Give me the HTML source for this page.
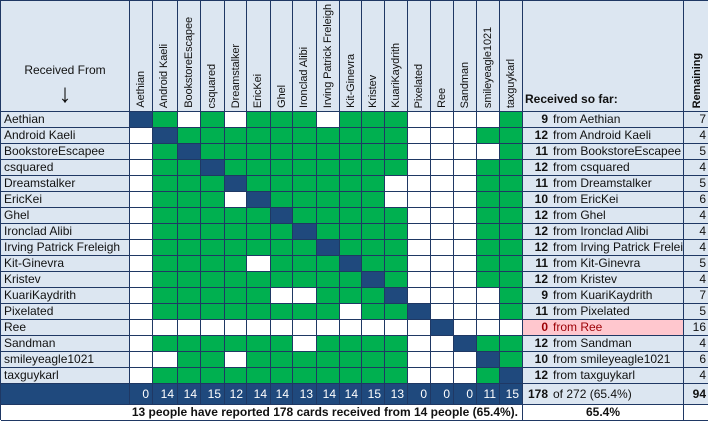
<!DOCTYPE html>
<html><head><meta charset="utf-8"><style>
body{margin:0;width:708px;height:420px;overflow:hidden;background:#fff;font-family:"Liberation Sans",sans-serif;}
.t{display:grid;grid-template-columns:129px 23px 25px 23px 24px 22px 24px 22px 24px 23px 22px repeat(7,23px) 161px 25px;grid-template-rows:111px repeat(17,16px) 21px 16px;width:708px;height:420px;border-left:1px solid #1f3864;border-top:1px solid #1f3864;box-sizing:border-box}
.t>div{border-right:1px solid #1f3864;border-bottom:1px solid #1f3864;box-sizing:border-box;font-size:12px;line-height:15px;overflow:hidden;white-space:nowrap;color:#111}
.n{background:#dce6f1;padding-left:3px}
.G{background:#00b050}.W{background:#fff}.D{background:#1f497d}
.t>.h{background:#dce6f1;display:flex;align-items:flex-end}
.v{writing-mode:vertical-rl;transform:rotate(180deg);display:inline-block;padding:3px 0 2px 0;margin-left:4px;font-size:11px;letter-spacing:-0.1px}
.rf{background:#dce6f1}
.rf b{display:inline-block;width:25px;text-align:right;margin-right:5px}
.rem{background:#dce6f1;text-align:right;padding-right:2px}
.t>.pink{background:#ffc7ce;color:#9c0006}
.t>.f{background:#1f497d;color:#fff;text-align:right;padding-right:3px;line-height:20px}
</style></head><body>
<div class="t">
<div class="h" style="display:block;text-align:center"><div style="margin-top:62px;font-size:12px">Received From</div><div style="font-size:26px;line-height:26px;margin-top:2px">&#8595;</div></div>
<div class="h"><span class="v">Aethian</span></div>
<div class="h"><span class="v">Android Kaeli</span></div>
<div class="h"><span class="v">BookstoreEscapee</span></div>
<div class="h"><span class="v">csquared</span></div>
<div class="h"><span class="v">Dreamstalker</span></div>
<div class="h"><span class="v">EricKei</span></div>
<div class="h"><span class="v">Ghel</span></div>
<div class="h"><span class="v">Ironclad Alibi</span></div>
<div class="h"><span class="v">Irving Patrick Freleigh</span></div>
<div class="h"><span class="v">Kit-Ginevra</span></div>
<div class="h"><span class="v">Kristev</span></div>
<div class="h"><span class="v">KuariKaydrith</span></div>
<div class="h"><span class="v">Pixelated</span></div>
<div class="h"><span class="v">Ree</span></div>
<div class="h"><span class="v">Sandman</span></div>
<div class="h"><span class="v">smileyeagle1021</span></div>
<div class="h"><span class="v">taxguykarl</span></div>
<div class="h"><b style="display:block;padding:0 0 4px 2px">Received so far:</b></div>
<div class="h"><b class="v" style="margin-left:6px">Remaining</b></div>

<div class="n">Aethian</div><div class="D"></div><div class="G"></div><div class="W"></div><div class="G"></div><div class="W"></div><div class="G"></div><div class="G"></div><div class="G"></div><div class="W"></div><div class="G"></div><div class="G"></div><div class="G"></div><div class="W"></div><div class="W"></div><div class="W"></div><div class="W"></div><div class="G"></div><div class="rf"><b>9</b>from Aethian</div><div class="rem">7</div>
<div class="n">Android Kaeli</div><div class="W"></div><div class="D"></div><div class="G"></div><div class="G"></div><div class="G"></div><div class="G"></div><div class="G"></div><div class="G"></div><div class="G"></div><div class="G"></div><div class="G"></div><div class="G"></div><div class="W"></div><div class="W"></div><div class="W"></div><div class="G"></div><div class="G"></div><div class="rf"><b>12</b>from Android Kaeli</div><div class="rem">4</div>
<div class="n">BookstoreEscapee</div><div class="W"></div><div class="G"></div><div class="D"></div><div class="G"></div><div class="G"></div><div class="G"></div><div class="G"></div><div class="G"></div><div class="G"></div><div class="G"></div><div class="G"></div><div class="G"></div><div class="W"></div><div class="W"></div><div class="W"></div><div class="W"></div><div class="G"></div><div class="rf"><b>11</b>from BookstoreEscapee</div><div class="rem">5</div>
<div class="n">csquared</div><div class="W"></div><div class="G"></div><div class="G"></div><div class="D"></div><div class="G"></div><div class="G"></div><div class="G"></div><div class="G"></div><div class="G"></div><div class="G"></div><div class="G"></div><div class="G"></div><div class="W"></div><div class="W"></div><div class="W"></div><div class="G"></div><div class="G"></div><div class="rf"><b>12</b>from csquared</div><div class="rem">4</div>
<div class="n">Dreamstalker</div><div class="W"></div><div class="G"></div><div class="G"></div><div class="G"></div><div class="D"></div><div class="G"></div><div class="G"></div><div class="G"></div><div class="G"></div><div class="G"></div><div class="G"></div><div class="W"></div><div class="W"></div><div class="W"></div><div class="W"></div><div class="G"></div><div class="G"></div><div class="rf"><b>11</b>from Dreamstalker</div><div class="rem">5</div>
<div class="n">EricKei</div><div class="W"></div><div class="G"></div><div class="G"></div><div class="G"></div><div class="W"></div><div class="D"></div><div class="G"></div><div class="G"></div><div class="G"></div><div class="G"></div><div class="G"></div><div class="W"></div><div class="W"></div><div class="W"></div><div class="W"></div><div class="G"></div><div class="G"></div><div class="rf"><b>10</b>from EricKei</div><div class="rem">6</div>
<div class="n">Ghel</div><div class="W"></div><div class="G"></div><div class="G"></div><div class="G"></div><div class="G"></div><div class="G"></div><div class="D"></div><div class="G"></div><div class="G"></div><div class="G"></div><div class="G"></div><div class="G"></div><div class="W"></div><div class="W"></div><div class="W"></div><div class="G"></div><div class="G"></div><div class="rf"><b>12</b>from Ghel</div><div class="rem">4</div>
<div class="n">Ironclad Alibi</div><div class="W"></div><div class="G"></div><div class="G"></div><div class="G"></div><div class="G"></div><div class="G"></div><div class="G"></div><div class="D"></div><div class="G"></div><div class="G"></div><div class="G"></div><div class="G"></div><div class="W"></div><div class="W"></div><div class="W"></div><div class="G"></div><div class="G"></div><div class="rf"><b>12</b>from Ironclad Alibi</div><div class="rem">4</div>
<div class="n">Irving Patrick Freleigh</div><div class="W"></div><div class="G"></div><div class="G"></div><div class="G"></div><div class="G"></div><div class="G"></div><div class="G"></div><div class="G"></div><div class="D"></div><div class="G"></div><div class="G"></div><div class="G"></div><div class="W"></div><div class="W"></div><div class="W"></div><div class="G"></div><div class="G"></div><div class="rf"><b>12</b>from Irving Patrick Freleigh</div><div class="rem">4</div>
<div class="n">Kit-Ginevra</div><div class="W"></div><div class="G"></div><div class="G"></div><div class="G"></div><div class="G"></div><div class="W"></div><div class="G"></div><div class="G"></div><div class="G"></div><div class="D"></div><div class="G"></div><div class="G"></div><div class="W"></div><div class="W"></div><div class="W"></div><div class="G"></div><div class="G"></div><div class="rf"><b>11</b>from Kit-Ginevra</div><div class="rem">5</div>
<div class="n">Kristev</div><div class="W"></div><div class="G"></div><div class="G"></div><div class="G"></div><div class="G"></div><div class="G"></div><div class="G"></div><div class="G"></div><div class="G"></div><div class="G"></div><div class="D"></div><div class="G"></div><div class="W"></div><div class="W"></div><div class="W"></div><div class="G"></div><div class="G"></div><div class="rf"><b>12</b>from Kristev</div><div class="rem">4</div>
<div class="n">KuariKaydrith</div><div class="W"></div><div class="G"></div><div class="G"></div><div class="G"></div><div class="G"></div><div class="G"></div><div class="W"></div><div class="W"></div><div class="G"></div><div class="G"></div><div class="G"></div><div class="D"></div><div class="W"></div><div class="W"></div><div class="W"></div><div class="W"></div><div class="G"></div><div class="rf"><b>9</b>from KuariKaydrith</div><div class="rem">7</div>
<div class="n">Pixelated</div><div class="W"></div><div class="G"></div><div class="G"></div><div class="G"></div><div class="G"></div><div class="G"></div><div class="G"></div><div class="G"></div><div class="G"></div><div class="W"></div><div class="G"></div><div class="G"></div><div class="D"></div><div class="W"></div><div class="W"></div><div class="W"></div><div class="G"></div><div class="rf"><b>11</b>from Pixelated</div><div class="rem">5</div>
<div class="n">Ree</div><div class="W"></div><div class="W"></div><div class="W"></div><div class="W"></div><div class="W"></div><div class="W"></div><div class="W"></div><div class="W"></div><div class="W"></div><div class="W"></div><div class="W"></div><div class="W"></div><div class="W"></div><div class="D"></div><div class="W"></div><div class="W"></div><div class="W"></div><div class="rf pink"><b>0</b>from Ree</div><div class="rem">16</div>
<div class="n">Sandman</div><div class="W"></div><div class="G"></div><div class="G"></div><div class="G"></div><div class="G"></div><div class="G"></div><div class="G"></div><div class="W"></div><div class="G"></div><div class="G"></div><div class="G"></div><div class="G"></div><div class="W"></div><div class="W"></div><div class="D"></div><div class="G"></div><div class="G"></div><div class="rf"><b>12</b>from Sandman</div><div class="rem">4</div>
<div class="n">smileyeagle1021</div><div class="W"></div><div class="W"></div><div class="G"></div><div class="G"></div><div class="W"></div><div class="G"></div><div class="G"></div><div class="G"></div><div class="G"></div><div class="G"></div><div class="G"></div><div class="G"></div><div class="W"></div><div class="W"></div><div class="W"></div><div class="D"></div><div class="G"></div><div class="rf"><b>10</b>from smileyeagle1021</div><div class="rem">6</div>
<div class="n">taxguykarl</div><div class="W"></div><div class="G"></div><div class="G"></div><div class="G"></div><div class="G"></div><div class="G"></div><div class="G"></div><div class="G"></div><div class="G"></div><div class="G"></div><div class="G"></div><div class="G"></div><div class="W"></div><div class="W"></div><div class="W"></div><div class="G"></div><div class="D"></div><div class="rf"><b>12</b>from taxguykarl</div><div class="rem">4</div>

<div class="f"></div><div class="f">0</div><div class="f">14</div><div class="f">14</div><div class="f">15</div><div class="f">12</div><div class="f">14</div><div class="f">14</div><div class="f">13</div><div class="f">14</div><div class="f">14</div><div class="f">15</div><div class="f">13</div><div class="f">0</div><div class="f">0</div><div class="f">0</div><div class="f">11</div><div class="f">15</div>
<div class="rf" style="line-height:20px"><b>178</b>of 272 (65.4%)</div><div class="rem" style="font-weight:bold;line-height:20px">94</div>

<div style="grid-column:span 18;text-align:right;padding-right:4px;font-weight:bold">13 people have reported 178 cards received from 14 people (65.4%).</div><div style="text-align:center;font-weight:bold">65.4%</div><div></div>
</div>
</body></html>
